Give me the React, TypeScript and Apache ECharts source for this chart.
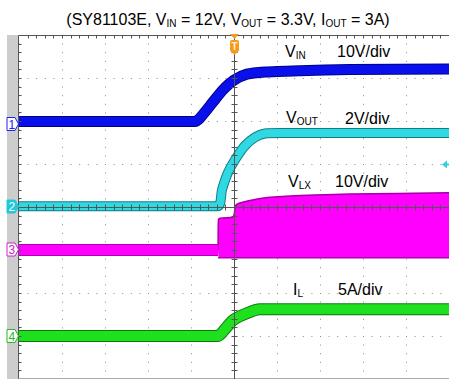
import React, { useEffect, useRef } from "react";
import * as echarts from "echarts";

// Time axis in divisions (0..10), amplitude in divisions (-4..4)
const vinTime = [0, 4.09, 4.2, 4.51, 4.74, 5.0, 5.3, 5.72, 6.53, 7.7, 10];
const vinLevel = [1.99, 1.99, 2.06, 2.44, 2.72, 2.95, 3.09, 3.14, 3.17, 3.2, 3.21];

const voutTime = [0, 4.63, 4.72, 4.86, 5.07, 5.26, 5.49, 5.72, 6.07, 10];
const voutLevel = [0.02, 0.02, 0.4, 0.8, 1.17, 1.43, 1.62, 1.71, 1.72, 1.72];

const vlxBaseTime = [0, 4.63];
const vlxBaseLevel = [-1.0, -1.0];
const vlxEnvTime = [4.63, 4.64, 4.98, 5.05, 5.37, 5.77, 6.53, 7.7, 10];
const vlxEnvLevel = [-1.0, -0.28, -0.23, 0.05, 0.15, 0.22, 0.27, 0.3, 0.33];
const vlxFloor = -1.18;

const ilTime = [0, 4.63, 4.79, 4.98, 5.3, 5.6, 10];
const ilLevel = [-3.0, -3.0, -2.84, -2.63, -2.47, -2.38, -2.38];

const FONT = "'Liberation Sans', Arial, sans-serif";

const pairs = (t: number[], v: number[]) => t.map((x, i) => [x, v[i]]);

const trace = (name: string, data: number[][], color: string, edge: string, width: number, z: number) => [
  {
    type: "line",
    name: name + "-edge",
    data,
    symbol: "none",
    smooth: 0.2,
    lineStyle: { color: edge, width: width + 2 },
    z,
    silent: true,
  },
  {
    type: "line",
    name,
    data,
    symbol: "none",
    smooth: 0.2,
    lineStyle: { color, width },
    z: z + 0.1,
    silent: true,
  },
];

const sub = (main: string, s: string) => `{a|${main}}{s|${s}}`;
const richStyle = (size: number, subSize: number) => ({
  a: { fontSize: size, fontFamily: FONT, lineHeight: size + 2, fill: "#000" },
  s: { fontSize: subSize, fontFamily: FONT, lineHeight: subSize, verticalAlign: "bottom", fill: "#000" },
});

const label = (x: number, y: number, text: string, rich = true) => ({
  type: "text",
  x,
  y,
  z: 200,
  silent: true,
  style: rich
    ? { text, rich: richStyle(16, 10), align: "left", verticalAlign: "middle" }
    : { text, fontSize: 16, fontFamily: FONT, fill: "#000", align: "left", verticalAlign: "middle" },
});

const marker = (y: number, num: string, color: string, filled: boolean) => [
  {
    type: "polygon",
    z: 200,
    silent: true,
    shape: { points: [[7, y - 6.5], [15, y - 6.5], [18.5, y], [15, y + 6.5], [7, y + 6.5]] },
    style: { fill: filled ? color : "#fff", stroke: color, lineWidth: 1 },
  },
  {
    type: "text",
    z: 201,
    silent: true,
    x: 11.8,
    y: y + 0.5,
    style: { text: num, fontSize: 12, fontFamily: FONT, fill: filled ? "#fff" : color, align: "center", verticalAlign: "middle" },
  },
];

export default function App() {
  const ref = useRef<HTMLDivElement>(null);
  useEffect(() => {
    const chart = echarts.init(ref.current!, null, { renderer: "svg" });
    const gridColor = "#555";
    const orange = "#f59a1c";
    const option: any = {
      animation: false,
      backgroundColor: "#fff",
      grid: { left: 19, top: 35, right: 0, bottom: 0, containLabel: false },
      xAxis: {
        type: "value",
        min: 0,
        max: 10,
        interval: 1,
        axisLine: { show: false },
        axisTick: { show: false },
        axisLabel: { show: false },
        splitLine: { show: true, lineStyle: { color: "#8a8a8a", width: 1, type: [1, 7.6] } },
      },
      yAxis: {
        type: "value",
        min: -4,
        max: 4,
        interval: 1,
        axisLine: { show: false },
        axisTick: { show: false },
        axisLabel: { show: false },
        splitLine: { show: true, lineStyle: { color: "#8a8a8a", width: 1, type: [1, 7.6] } },
      },
      series: [
        // VLX switching envelope (filled)
        {
          type: "line",
          name: "VLX-fill",
          data: pairs(vlxEnvTime, vlxEnvLevel),
          symbol: "none",
          smooth: 0.2,
          lineStyle: { color: "#a800a8", width: 1.5 },
          areaStyle: { color: "#ff00ff", opacity: 1, origin: vlxFloor },
          z: 2,
          silent: true,
        },
        {
          type: "line",
          name: "VLX-floor",
          data: pairs([vlxEnvTime[0], vlxEnvTime[vlxEnvTime.length - 1]], [vlxFloor, vlxFloor]),
          symbol: "none",
          lineStyle: { color: "#b000b0", width: 1.5 },
          z: 2.05,
          silent: true,
        },
        ...trace("VLX", pairs(vlxBaseTime, vlxBaseLevel), "#ff00ff", "#b000b0", 10, 2.2),
        ...trace("VIN", pairs(vinTime, vinLevel), "#0a10ec", "#00008c", 9, 3),
        ...trace("VOUT", pairs(voutTime, voutLevel), "#30d8e2", "#0e7f88", 8, 4),
        ...trace("IL", pairs(ilTime, ilLevel), "#1ee01e", "#0b7a0b", 10, 5),
        // graticule overlay (borders, center lines, ticks)
        {
          type: "custom",
          name: "graticule",
          coordinateSystem: "cartesian2d",
          data: [[0, 0]],
          z: 50,
          silent: true,
          renderItem: (_p: any, api: any) => {
            const c = (x: number, y: number) => api.coord([x, y]);
            const children: any[] = [];
            const ln = (x1: number, y1: number, x2: number, y2: number, color = gridColor, w = 1) =>
              children.push({
                type: "line",
                shape: { x1, y1, x2, y2 },
                style: { stroke: color, lineWidth: w },
              });
            const tl = c(0, 4);
            const br = c(10, -4);
            const ctr = c(5, 0);
            const top = Math.round(tl[1]) + 0.5;
            const left = Math.round(tl[0]) - 0.5;
            const cx = Math.round(ctr[0]) + 0.5;
            const cy = Math.round(ctr[1]) + 0.5;
            ln(left, top, br[0], top);
            ln(left, top, left, br[1]);
            ln(left, br[1] - 0.5, br[0], br[1] - 0.5, "#aaa");
            ln(cx, top, cx, br[1]);
            ln(left, cy, br[0], cy);
            for (let i = 1; i < 50; i++) {
              const x = Math.round(c(i * 0.2, 0)[0]) + 0.5;
              ln(x, top, x, top + 3);
              ln(x, cy - 3, x, cy + 3);
            }
            for (let j = -19; j < 20; j++) {
              const y = Math.round(c(0, j * 0.2)[1]) + 0.5;
              ln(left, y, left + 3, y);
              ln(cx - 3, y, cx + 3, y);
            }
            return { type: "group", children };
          },
        },
      ],
      graphic: [
        { type: "rect", z: 0, silent: true, shape: { x: 7, y: 35, width: 11.5, height: 344 }, style: { fill: "#cdcdcd" } },
        {
          type: "text",
          x: 228,
          y: 19,
          z: 200,
          silent: true,
          style: {
            text: `{a|(SY81103E, V}{s|IN}{a| = 12V, V}{s|OUT}{a| = 3.3V, I}{s|OUT}{a| = 3A)}`,
            rich: richStyle(16, 10),
            align: "center",
            verticalAlign: "middle",
          },
        },
        label(285, 51, sub("V", "IN")),
        label(337, 51, "10V/div", false),
        label(286, 117, sub("V", "OUT")),
        label(345, 118, "2V/div", false),
        label(288, 181, sub("V", "LX")),
        label(335, 181, "10V/div", false),
        label(293, 289, sub("I", "L")),
        label(338, 289, "5A/div", false),
        ...marker(124, "1", "#2222ee", false),
        ...marker(206.5, "2", "#22c8d8", true),
        ...marker(249.5, "3", "#cc22cc", false),
        ...marker(336, "4", "#22bb22", false),
        // trigger position marker
        { type: "polygon", z: 210, silent: true, shape: { points: [[230, 34], [239, 34], [234.5, 39]] }, style: { fill: orange } },
        { type: "rect", z: 210, silent: true, shape: { x: 230, y: 40, width: 9, height: 12, r: 2 }, style: { fill: orange } },
        { type: "polygon", z: 210, silent: true, shape: { points: [[231.5, 52], [237.5, 52], [234.5, 55]] }, style: { fill: orange } },
        {
          type: "text",
          z: 211,
          silent: true,
          x: 234.5,
          y: 46.5,
          style: { text: "T", fontSize: 10, fontWeight: "bold", fontFamily: FONT, fill: "#fff2d8", align: "center", verticalAlign: "middle" },
        },
        // trigger level arrow (right edge)
        { type: "polygon", z: 210, silent: true, shape: { points: [[442, 164.5], [447, 160.5], [447, 168.5]] }, style: { fill: "#30d0e0" } },
        { type: "line", z: 210, silent: true, shape: { x1: 446, y1: 164.5, x2: 449, y2: 164.5 }, style: { stroke: "#30d0e0", lineWidth: 2 } },
      ],
    };
    chart.setOption(option);
    return () => chart.dispose();
  }, []);
  return (
    <div
      ref={ref}
      style={{ position: "fixed", left: 0, top: 0, width: 449, height: 379, background: "#fff" }}
    />
  );
}
